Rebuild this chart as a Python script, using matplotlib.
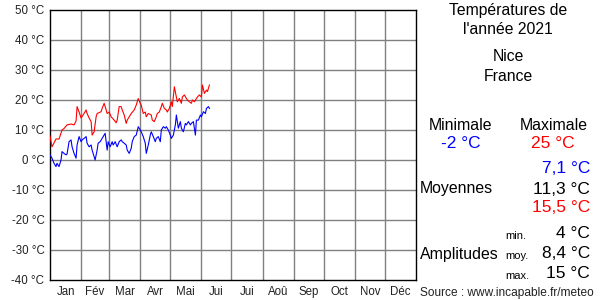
import matplotlib
matplotlib.use("Agg")
import matplotlib.pyplot as plt

plt.rcParams['font.family'] = ['Liberation Sans', 'DejaVu Sans']

months = ["Jan", "Fév", "Mar", "Avr", "Mai", "Jui", "Jui", "Aoû", "Sep", "Oct", "Nov", "Déc"]
month_starts = [0, 31, 59, 90, 120, 151, 181, 212, 243, 273, 304, 334, 365]
y_ticks = [50, 40, 30, 20, 10, 0, -10, -20, -30, -40]

tmax_days = [0, 2, 6, 9, 12, 14, 17, 21, 24, 26, 27, 29, 31, 34, 36, 37, 39, 41, 42, 44,
             46, 47, 51, 52, 54, 56, 57, 59, 61, 64, 66, 67, 69, 71, 72, 74, 76, 77, 79, 81,
             84, 86, 88, 90, 91, 93, 95, 96, 98, 101, 102, 104, 106, 107, 109, 111, 112, 114, 116, 117,
             119, 121, 122, 124, 126, 127, 129, 131, 132, 134, 136, 137, 139, 141, 142, 144, 146, 147, 149, 151,
             152, 154, 156, 157, 159]
tmax = [8, 4.4, 7, 7, 10, 10.5, 11.7, 12, 11.7, 13, 17.8, 16, 14, 15.5, 16.7, 15.5, 14, 12.8, 8.3, 9.4,
        14.4, 15.5, 16.1, 17.2, 18.9, 16.7, 15.5, 16, 14.4, 13.3, 12.4, 13.3, 17.8, 17.8, 16.7, 15, 12.2, 13.3, 14.4, 15.5,
        16.7, 18.3, 20.5, 18.9, 18.3, 15.5, 16, 14.4, 15.5, 15, 13.3, 12.8, 14.4, 15.5, 16, 17.8, 18.9, 17.2, 16.7, 16,
        17.2, 19.4, 17.8, 24.4, 21, 19.4, 20.5, 18.9, 21, 21.7, 20.5, 20, 19.4, 18.9, 20, 19.4, 20.5, 21, 21.7, 21,
        25, 22.2, 23.3, 22.8, 25]

tmin_days = [0, 2, 4, 6, 7, 9, 11, 12, 14, 16, 17, 19, 21, 22, 24, 26, 27, 29, 31, 32,
             34, 36, 37, 39, 41, 42, 44, 45, 47, 48, 50, 52, 53, 55, 57, 58, 60, 62, 63, 65,
             67, 69, 71, 72, 74, 76, 77, 79, 81, 82, 84, 86, 88, 90, 91, 93, 95, 96, 98, 100,
             101, 103, 105, 106, 108, 110, 111, 113, 115, 116, 118, 120, 121, 123, 125, 126, 128, 130, 131, 133,
             135, 136, 138, 140, 141, 143, 145, 146, 148, 150, 151, 153, 155, 156, 158, 159]
tmin = [1.7, 0.6, -1.1, -2.2, -1.1, -2.2, 0, 2.8, 2.2, 1.7, 2, 6.1, 6.7, 4.4, 2.2, 0.6, 5, 7.8, 6.1, 6.7,
        7.2, 7.8, 5.6, 4.4, 5, 3.3, 1.1, 0, 3.3, 5.6, 6.1, 7.2, 7.8, 8.9, 3.3, 6.1, 4.4, 6.1, 5, 6.1,
        4.4, 6.1, 6.7, 6.1, 5.6, 5, 3.3, 2.2, 3.9, 6.1, 7.8, 8.3, 11.1, 10, 9.4, 7.8, 5.6, 2.2, 5, 8.3,
        9.4, 7.8, 6.1, 7.2, 7.8, 6.1, 10, 11.1, 10.6, 11.1, 10, 8.3, 7.2, 8.3, 11.7, 15, 10.6, 12.8, 10.6, 9.4,
        12.2, 11.7, 12.8, 11.7, 12.2, 12.8, 8.3, 13.3, 13.3, 15, 14.4, 16.1, 15.5, 17.2, 17.8, 17.2]

W, H = 600, 300
fig = plt.figure(figsize=(6, 3), dpi=100)
ax = fig.add_axes([50 / W, 1 - 280 / H, 366 / W, 270 / H])
ax.set_xlim(0, 365)
ax.set_ylim(-40, 50)

for s in month_starts[1:-1]:
    ax.axvline(s, color="#808080", lw=1.0, zorder=1)
for t in y_ticks[1:-1]:
    ax.axhline(t, color="#808080", lw=1.0, zorder=1)

ax.plot(tmax_days, tmax, color="#ff0000", lw=0.8, zorder=3)
ax.plot(tmin_days, tmin, color="#0000ff", lw=0.8, zorder=3)

ax.set_yticks(y_ticks)
ax.set_yticklabels([f"{t} °C" for t in y_ticks], fontsize=8.3, color="#222222")
centers = [(month_starts[i] + month_starts[i + 1]) / 2 for i in range(12)]
ax.set_xticks(centers)
ax.set_xticklabels(months, fontsize=8.3, color="#222222")
ax.tick_params(axis="both", length=0, pad=4)
for sp in ax.spines.values():
    sp.set_color("black")
    sp.set_linewidth(1.0)


def t(x, y, s, size=11.4, color="black", ha="center", va="center"):
    fig.text(x / W, 1 - y / H, s, fontsize=size, color=color, ha=ha, va=va)


t(508, 10, "Températures de", 11.3)
t(508, 30, "l'année 2021", 11.3)
t(508, 57, "Nice", 11.3)
t(508, 77, "France", 11.3)
t(460, 125, "Minimale")
t(554, 125, "Maximale")
t(461, 143, "-2 °C", color="#0000ff", size=12.5)
t(553, 143, "25 °C", color="#ff0000", size=12.5)
t(420, 189, "Moyennes", ha="left")
t(590, 168, "7,1 °C", color="#0000ff", ha="right", size=12.5)
t(590, 189, "11,3 °C", ha="right", size=12.5)
t(590, 208, "15,5 °C", color="#ff0000", ha="right", size=12.5)
t(420, 254, "Amplitudes", ha="left")
t(505, 236, "min.", ha="left", size=8)
t(505, 256, "moy.", ha="left", size=8)
t(505, 276, "max.", ha="left", size=8)
t(590, 233, "4 °C", ha="right", size=12.5)
t(590, 254, "8,4 °C", ha="right", size=12.5)
t(590, 274, "15 °C", ha="right", size=12.5)
t(420, 293, "Source : www.incapable.fr/meteo", ha="left", size=8.6, color="#222222")

fig.savefig("out.png", dpi=100)
